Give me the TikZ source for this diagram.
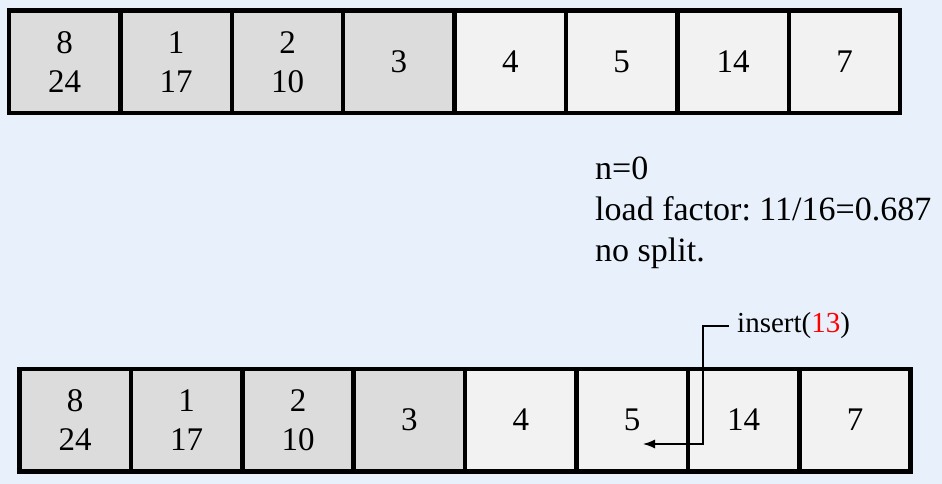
\documentclass[tikz,border=0pt]{standalone}
\usepackage{fontspec}
\setmainfont{Liberation Serif}
\usetikzlibrary{positioning}
\usetikzlibrary{arrows.meta}
\definecolor{bgblue}{HTML}{E8F1FB}
\definecolor{usedgray}{HTML}{DCDCDC}
\definecolor{freegray}{HTML}{F2F2F2}
\frenchspacing
\begin{document}
\begin{tikzpicture}[x=1pt,y=-1pt,node distance=111.4pt,
  every node/.style={inner sep=2pt,font=\fontsize{33}{39}\selectfont},
  bucket/.style={draw,line width=4.5pt,fill=freegray,minimum width=111.4pt,minimum height=102.5pt,inner sep=0pt,align=center},
  used/.style={bucket,fill=usedgray}]
  \fill[bgblue] (0,0) rectangle (942,484);
  \useasboundingbox (0,0) rectangle (942,484);
  % table before the insert
  \node[used] (t1) at (64.7,62) {8\\24};
  \node[used,right of=t1] (t2) {1\\17};
  \node[used,right of=t2] (t3) {2\\10};
  \node[used,right of=t3] (t4) {3};
  \node[bucket,right of=t4] (t5) {4};
  \node[bucket,right of=t5] (t6) {5};
  \node[bucket,right of=t6] (t7) {14};
  \node[bucket,right of=t7] (t8) {7};
  \node[anchor=base west,align=left,font=\fontsize{34}{41}\selectfont] (info) at (593,261)
    {n=0\\load factor: 11/16=0.687\\no split.};
  % table after the insert
  \node[used] (b1) at (75.2,420) {8\\24};
  \node[used,right of=b1] (b2) {1\\17};
  \node[used,right of=b2] (b3) {2\\10};
  \node[used,right of=b3] (b4) {3};
  \node[bucket,right of=b4] (b5) {4};
  \node[bucket,right of=b5] (b6) {5};
  \node[bucket,right of=b6] (b7) {14};
  \node[bucket,right of=b7] (b8) {7};
  \node[anchor=west,inner sep=8pt,font=\fontsize{29}{32}\selectfont] (ins) at (729,326) {insert(\textcolor{red}{13})};
  \coordinate (tip) at (643,444);
  \draw[line width=1.3pt,-{Latex[length=12pt,width=9pt]}] (ins.west) -- ++(-26,0) |- (tip);
\end{tikzpicture}
\end{document}
